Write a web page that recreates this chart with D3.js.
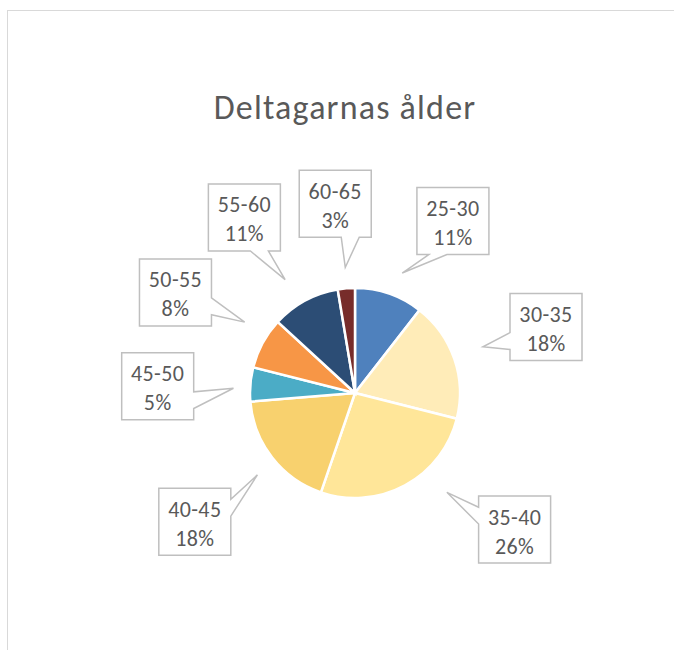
<!DOCTYPE html>
<html>
<head>
<meta charset="utf-8">
<script src="https://cdn.jsdelivr.net/npm/d3@7"></script>
<style>
  body { margin: 0; background: #fff; }
  text { font-family: Carlito, Calibri, Lato, sans-serif; fill: #595959; }
</style>
</head>
<body>
<svg id="chart" width="674" height="650"></svg>
<script>
// data: number of participants per age group
var ageGroups = ["25-30", "30-35", "35-40", "40-45", "45-50", "50-55", "55-60", "60-65"]
var counts = [4, 7, 10, 7, 2, 3, 4, 1]
var sliceColors = ["#4f81bd", "#ffecb8", "#ffe699", "#f8d16e", "#4bacc6", "#f79646", "#2c4d75", "#772c2a"]

// manual label nudges (like dragged Excel labels), px from the default spot
var boxNudge = [[32,20],[-1,0],[63,-42],[0,4],[5,10],[-1,-4],[-14,3],[-3,13]]
var tipNudge = [[5,3],[5,-4],[30,-15],[5,2],[8,6],[4,-9],[-8,1],[1,4]]

var svg = d3.select("#chart")
var cx = 355, cy = 393, r = 105
var boxW = 72, boxH = 67

// chart area frame
svg.append("rect").attr("x",7.5).attr("y",10.5).attr("width",700).attr("height",700)
  .attr("fill","none").attr("stroke","#d9d9d9").attr("stroke-width",1)

svg.append("text").text("Deltagarnas ålder").attr("x",345).attr("y",119)
  .attr("text-anchor","middle").attr("font-size","34px").attr("letter-spacing","1.2px")

var total = d3.sum(counts)
var pie = d3.pie().sort(null).value(function(d){ return d })
var arcs = pie(counts)
var arc = d3.arc().innerRadius(0).outerRadius(r)

var g = svg.append("g").attr("transform","translate(" + cx + "," + cy + ")")
g.selectAll("path").data(arcs).enter().append("path")
  .attr("d", arc)
  .attr("fill", function(d,i){ return sliceColors[i] })
  .attr("stroke","#fff").attr("stroke-width",2.5).attr("stroke-linejoin","miter")

// callouts
var boxArc = d3.arc().innerRadius(203).outerRadius(203)
var tipArc = d3.arc().innerRadius(130).outerRadius(130)

arcs.forEach(function(d,i){
  var bc = boxArc.centroid(d), tc = tipArc.centroid(d)
  var bx = cx + bc[0] + boxNudge[i][0], by = cy + bc[1] + boxNudge[i][1]
  var tx = cx + tc[0] + tipNudge[i][0], ty = cy + tc[1] + tipNudge[i][1]
  var x0 = bx - boxW/2, y0 = by - boxH/2, x1 = bx + boxW/2, y1 = by + boxH/2
  var dx = tx - bx, dy = ty - by
  var pts
  // office style wedge callout: base sits at 2/12..5/12 or 7/12..10/12 of a side
  if (Math.abs(dy)/boxH > Math.abs(dx)/boxW) {
    var a = x0 + boxW*(dx > 0 ? 7 : 2)/12, b = x0 + boxW*(dx > 0 ? 10 : 5)/12
    if (dy > 0) pts = [[x0,y0],[x1,y0],[x1,y1],[b,y1],[tx,ty],[a,y1],[x0,y1]]
    else pts = [[x0,y0],[a,y0],[tx,ty],[b,y0],[x1,y0],[x1,y1],[x0,y1]]
  } else {
    var c = y0 + boxH*(dy > 0 ? 7 : 2)/12, e = y0 + boxH*(dy > 0 ? 10 : 5)/12
    if (dx > 0) pts = [[x0,y0],[x1,y0],[x1,c],[tx,ty],[x1,e],[x1,y1],[x0,y1]]
    else pts = [[x0,y0],[x1,y0],[x1,y1],[x0,y1],[x0,e],[tx,ty],[x0,c]]
  }
  svg.append("path").attr("d", d3.line()(pts) + "Z")
    .attr("fill","#fff").attr("stroke","#bfbfbf").attr("stroke-width",1.5)
  var pct = Math.round(counts[i] / total * 100) + "%"
  svg.append("text").text(ageGroups[i]).attr("x",bx).attr("y",by - 5)
    .attr("text-anchor","middle").attr("font-size","22px").attr("letter-spacing","0.4px")
  svg.append("text").text(pct).attr("x",bx).attr("y",by + 24)
    .attr("text-anchor","middle").attr("font-size","22px").attr("letter-spacing","0.4px")
})
</script>
</body>
</html>
